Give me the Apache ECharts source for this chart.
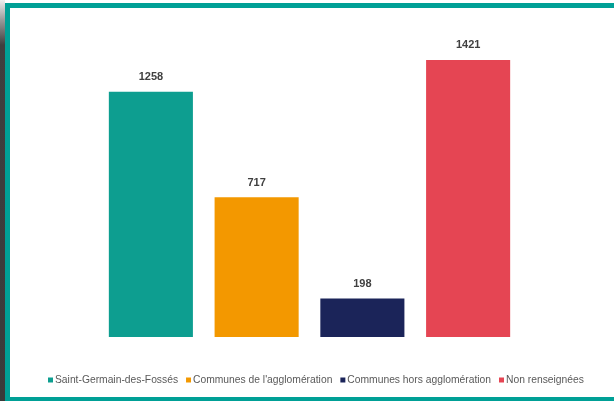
<!DOCTYPE html>
<html><head><meta charset="utf-8">
<script src="https://cdn.jsdelivr.net/npm/echarts@6/dist/echarts.min.js"></script>
<style>
html,body{margin:0;padding:0;background:#fff;}
#wrap{position:relative;width:614px;height:401px;overflow:hidden;background:#fff;}
#strip{position:absolute;left:0;top:0;width:5px;height:401px;background:linear-gradient(#f0f0f0 0px,#9a9a9a 20px,#3f3f3f 45px,#3a3a3a 401px);}
#tealL{position:absolute;left:5px;top:3px;width:5px;height:398px;background:#00a096;}
#tealT{position:absolute;left:5px;top:3px;width:609px;height:5px;background:#00a096;}
#tealB{position:absolute;left:5px;top:397px;width:609px;height:4px;background:#00a096;}
#chart{position:absolute;left:10px;top:8px;width:604px;height:389px;}
</style></head>
<body><div id="wrap"><div id="strip"></div><div id="tealL"></div><div id="tealT"></div><div id="tealB"></div><div id="chart"></div></div>
<script>
const categories = ["Saint-Germain-des-Fossés", "Communes de l'agglomération", "Communes hors agglomération", "Non renseignées"];
const values = [1258, 717, 198, 1421];
const colors = ["#0d9e90", "#f39800", "#1b2459", "#e54553"];

const chart = echarts.init(document.getElementById('chart'));
const series = categories.map((c, i) => ({
  name: c,
  type: 'bar',
  stack: 'all',
  barWidth: '79.5%',
  itemStyle: {color: colors[i]},
  label: {show: true, position: 'top', distance: 9, color: '#404040', fontSize: 11, fontWeight: 'bold', fontFamily: 'Liberation Sans Narrow, Liberation Sans, Arial'},
  data: categories.map((_, j) => j === i ? values[i] : '-')
}));
chart.setOption({
  animation: false,
  grid: {left: 88, right: 93, top: 17, bottom: 60},
  xAxis: {type: 'category', data: categories, axisLine: {show: false}, axisTick: {show: false}, axisLabel: {show: false}},
  yAxis: {type: 'value', min: 0, max: 1600, show: false, splitLine: {show: false}},
  legend: {
    bottom: 7, left: 33, itemWidth: 5, itemHeight: 5, itemGap: 8,
    icon: 'rect',
    textStyle: {color: '#595959', fontSize: 10.3, padding: [0, 0, 0, -3], fontFamily: 'Liberation Sans, Arial'},
    data: categories
  },
  series: series
});
</script></body></html>
